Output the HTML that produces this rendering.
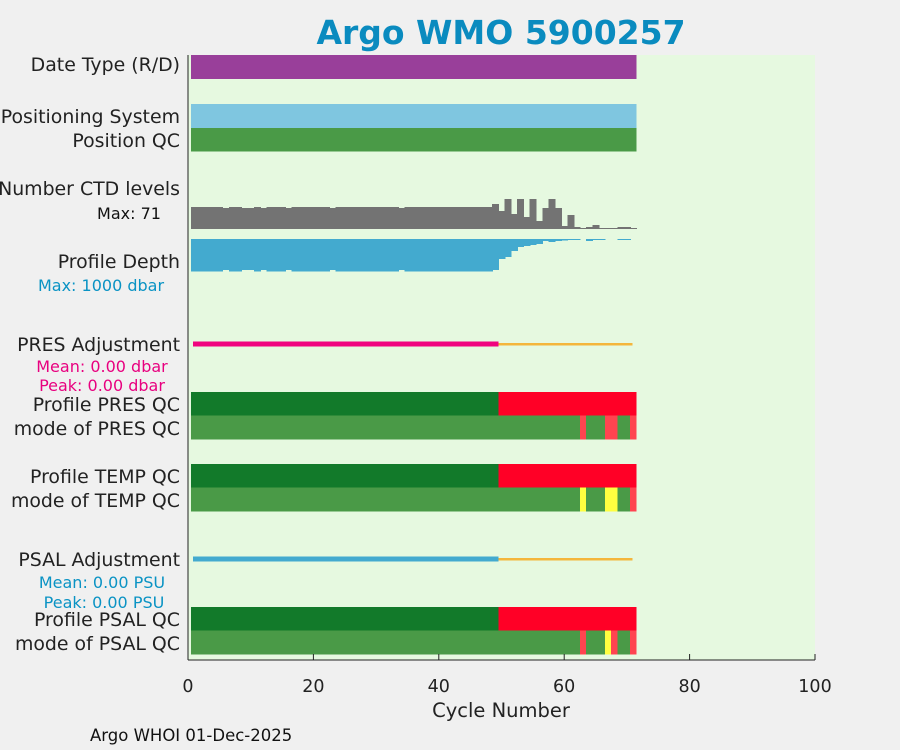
<!DOCTYPE html>
<html><head><meta charset="utf-8"><style>
html,body{margin:0;padding:0;background:#f0f0f0;}
svg{display:block;font-family:"DejaVu Sans","Liberation Sans",sans-serif;}
</style></head><body>
<svg id="chart" width="900" height="750" xmlns="http://www.w3.org/2000/svg">
<rect width="900" height="750" fill="#f0f0f0"/>
<text x="501" y="44" text-anchor="middle" font-size="33" font-weight="bold" fill="#0a8bbf">Argo WMO 5900257</text>
<rect x="188" y="55" width="627" height="605" fill="#e6f9e0"/>
<g id="marks" shape-rendering="crispEdges"></g>
<g font-size="18.9" fill="#222" text-anchor="end">
<text x="180" y="71">Date Type (R/D)</text>
<text x="180" y="123">Positioning System</text>
<text x="180" y="147">Position QC</text>
<text x="180" y="195">Number CTD levels</text>
<text x="180" y="268">Profile Depth</text>
<text x="180" y="351">PRES Adjustment</text>
<text x="180" y="411">Profile PRES QC</text>
<text x="180" y="435">mode of PRES QC</text>
<text x="180" y="483">Profile TEMP QC</text>
<text x="180" y="507">mode of TEMP QC</text>
<text x="180" y="566">PSAL Adjustment</text>
<text x="180" y="626">Profile PSAL QC</text>
<text x="180" y="650">mode of PSAL QC</text>
</g>
<g font-size="16" text-anchor="middle">
<text x="129" y="219" fill="#111">Max: 71</text>
<text x="101" y="291" fill="#0a93c4">Max: 1000 dbar</text>
<text x="102" y="372" fill="#e8007f">Mean: 0.00 dbar</text>
<text x="102" y="391" fill="#e8007f">Peak: 0.00 dbar</text>
<text x="102" y="588" fill="#0a93c4">Mean: 0.00 PSU</text>
<text x="104" y="608" fill="#0a93c4">Peak: 0.00 PSU</text>
</g>
<line x1="188" y1="55" x2="188" y2="660" stroke="#222" stroke-width="1"/>
<line x1="188" y1="660" x2="815" y2="660" stroke="#222" stroke-width="1"/>
<g id="xticks"></g>
<text x="501" y="717" text-anchor="middle" font-size="19.5" fill="#222">Cycle Number</text>
<text x="90" y="741" font-size="16.5" fill="#111">Argo WHOI 01-Dec-2025</text>
</svg>
<script>
const nCycles = 71;
const ctdLevels = [52,52,52,52,52,50,52,52,50,50,52,50,52,52,52,50,52,52,52,52,52,52,50,52,52,52,52,52,52,52,52,52,52,50,52,52,52,52,52,52,52,52,52,52,52,52,52,52,59,43,71,36,71,28,71,19,50,71,50,7,33,5,2,5,9,2,2,2,5,5,2];
const profileDepth = [1000,1000,1000,1000,1000,950,1000,1000,950,950,1000,950,1000,1000,1000,950,1000,1000,1000,1000,1000,1000,950,1000,1000,1000,1000,1000,1000,1000,1000,1000,1000,950,1000,1000,1000,1000,1000,1000,1000,1000,1000,1000,1000,1000,1000,1000,950,610,550,370,245,215,185,150,60,90,60,40,30,30,0,60,30,30,0,0,30,30,0];
const lastGoodProfile = 49;
const presModeQC = {63:'bad',67:'bad',68:'bad',71:'bad'};
const tempModeQC = {63:'warn',67:'warn',68:'warn',71:'bad'};
const psalModeQC = {63:'bad',67:'warn',68:'bad',71:'bad'};
const xTicks = [0,20,40,60,80,100];

const NS='http://www.w3.org/2000/svg';
const g=document.getElementById('marks');
const xs=c=>188+c*6.27;
function rect(x,y,w,h,fill,name){
  const r=document.createElementNS(NS,'rect');
  r.setAttribute('x',x);r.setAttribute('y',y);r.setAttribute('width',w);r.setAttribute('height',h);r.setAttribute('fill',fill);
  
  
  g.appendChild(r);return r;
}
function line(x1,x2,y,w,col,name){
  const l=document.createElementNS(NS,'line');
  l.setAttribute('x1',x1);l.setAttribute('x2',x2);l.setAttribute('y1',y);l.setAttribute('y2',y);
  l.setAttribute('stroke',col);l.setAttribute('stroke-width',w);
  
  
  g.appendChild(l);
}
const x0=xs(0.5), x1=xs(nCycles+0.5);
rect(x0,55,x1-x0,24,'#993f9a','date-type-bar');
rect(x0,104,x1-x0,24,'#7fc6e0','positioning-system-bar');
rect(x0,128,x1-x0,23.5,'#4a9a47','position-qc-bar');
ctdLevels.forEach((v,i)=>{const c=i+1;const h=v/71*30;
  rect(xs(c-0.5),229-h,7,h,'#737373','ctd-bar');});
profileDepth.forEach((v,i)=>{const c=i+1;const h=v/1000*32.7;if(h>0)
  rect(xs(c-0.5),239,7,h,'#43aacf','depth-bar');});
line(xs(0.8),xs(lastGoodProfile+0.5),344,5,'#f0047f','pres-adjustment-line');
line(xs(lastGoodProfile+0.5),xs(nCycles-0.1),344,2.5,'#f4b63c','pres-adjustment-line-orange');
line(xs(0.8),xs(lastGoodProfile+0.5),559,5,'#43aacf','psal-adjustment-line');
line(xs(lastGoodProfile+0.5),xs(nCycles-0.1),559,2.5,'#f4b63c','psal-adjustment-line-orange');
const cols={good:'#4a9a47',bad:'#ff4450',warn:'#ffff40'};
function qcRows(yTop,modeMap,pfx){
  rect(x0,yTop,xs(lastGoodProfile+0.5)-x0,23.5,'#127a2a',pfx+'-profile-qc-good');
  rect(xs(lastGoodProfile+0.5),yTop,x1-xs(lastGoodProfile+0.5),23.5,'#ff0026',pfx+'-profile-qc-bad');
  rect(x0,yTop+23.5,x1-x0,24,cols.good,pfx+'-mode-qc-row');
  for(let c=1;c<=nCycles;c++){
    const k=modeMap[c];
    if(k && k!=='good') rect(xs(c-0.5),yTop+23.5,6.27,24,cols[k],pfx+'-mode-qc-cell');
  }
}
qcRows(392,presModeQC,'pres');
qcRows(464,tempModeQC,'temp');
qcRows(607,psalModeQC,'psal');
const xt=document.getElementById('xticks');
xTicks.forEach(t=>{
  const l=document.createElementNS(NS,'line');
  l.setAttribute('x1',xs(t));l.setAttribute('x2',xs(t));l.setAttribute('y1',660);l.setAttribute('y2',654);l.setAttribute('stroke','#222');
  
  
  xt.appendChild(l);
  const tx=document.createElementNS(NS,'text');
  tx.setAttribute('x',xs(t));tx.setAttribute('y',692);tx.setAttribute('text-anchor','middle');tx.setAttribute('font-size','17.5');tx.setAttribute('fill','#222');
  tx.textContent=t;
  
  
  xt.appendChild(tx);
});
</script>
</body></html>
